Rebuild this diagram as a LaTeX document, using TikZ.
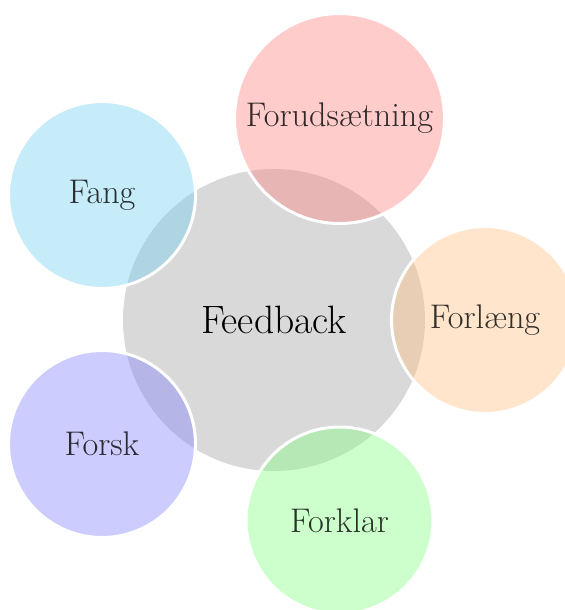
\documentclass[tikz,border=0pt]{standalone}
\begin{document}
\begin{tikzpicture}[x=0.5pt,y=-0.5pt,
  hub/.style={circle, fill=gray!30, minimum size=151pt, inner sep=0pt, text=black, font=\fontsize{19.8pt}{22pt}\selectfont},
  sat/.style={circle, fill=#1, fill opacity=0.4, text opacity=0.8, draw=white, draw opacity=1, line width=1.5pt, minimum size=93.5pt, inner sep=0pt, text=black, font=\fontsize{17.1pt}{20pt}\selectfont},
]
\definecolor{fangc}{RGB}{112,205,240}
\useasboundingbox (0,0) rectangle (564,610);
\node[hub] (fb) at (274,320) {Feedback};
\node[sat=red!50, minimum size=105pt] (s1) at (339.5,118.5) {Forudsætning};
\node[sat=fangc] (s2) at (102,195) {Fang};
\node[sat=orange!50] (s3) at (485,320) {Forlæng};
\node[sat=blue!50] (s4) at (102,444) {Forsk};
\node[sat=green!50] (s5) at (339.5,520.5) {Forklar};
\end{tikzpicture}
\end{document}
